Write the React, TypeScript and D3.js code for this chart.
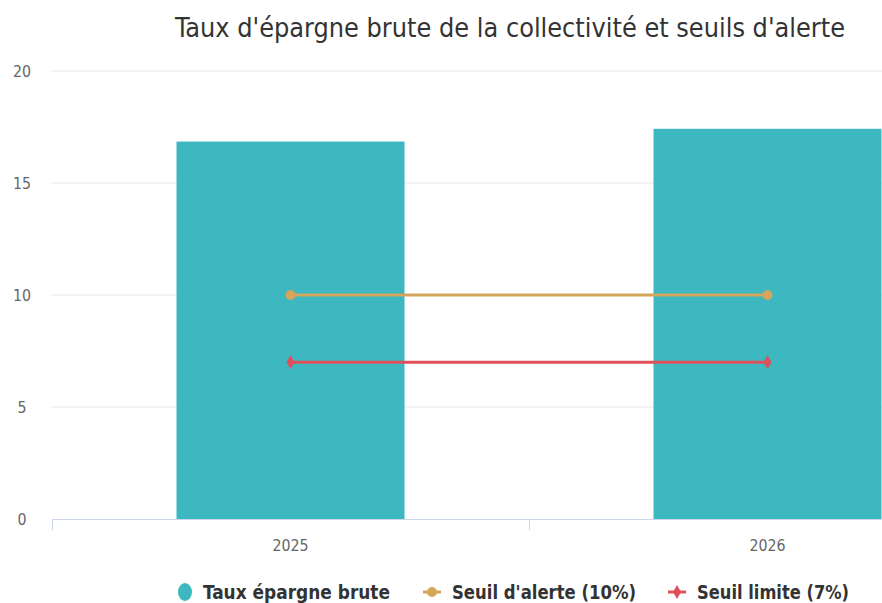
import React from "react";
import * as d3 from "d3";

const years = ["2025", "2026"];
const epargneBrute = [16.85, 17.42];
const seuilAlerte = [10, 10];
const seuilLimite = [7, 7];
const yTicks = [0, 5, 10, 15, 20];

const W = 882;
const H = 603;
const FONT = "'DejaVu Sans Condensed', 'DejaVu Sans', sans-serif";

export default function App() {
  // plot area runs past the right edge, like the source screenshot
  const x = d3.scaleBand<string>().domain(years).range([52, 1006]).padding(0);
  const y = d3.scaleLinear().domain([0, 20]).range([519, 71]);
  const bw = x.bandwidth();
  const barW = bw * 0.478;
  const cx = (d: string) => (x(d) as number) + bw / 2;

  const line = d3
    .line<number>()
    .x((_, i) => cx(years[i]))
    .y((d) => y(d));

  const diamond = d3.symbol(d3.symbolDiamond, 55)() as string;

  const legend = [
    { label: "Taux épargne brute", color: "#3db8c0", kind: "circle", x: 185, len: 187 },
    { label: "Seuil d'alerte (10%)", color: "#d4a55a", kind: "line-circle", x: 432, len: 184 },
    { label: "Seuil limite (7%)", color: "#e0505a", kind: "line-diamond", x: 677, len: 152 },
  ];

  return (
    <svg
      width={W}
      height={H}
      style={{ position: "absolute", left: 0, top: 0, background: "#fff" }}
      fontFamily={FONT}
    >
      <text x={510} y={37} textAnchor="middle" fontSize={26} fill="#333" textLength={670} lengthAdjust="spacingAndGlyphs">
        Taux d'épargne brute de la collectivité et seuils d'alerte
      </text>

      {/* grid */}
      {yTicks.filter((t) => t > 0).map((t) => (
        <line key={t} x1={52} x2={W} y1={y(t)} y2={y(t)} stroke="#e6e6e6" strokeWidth={1} />
      ))}
      {yTicks.map((t) => (
        <text
          key={t}
          x={22}
          y={y(t) + 6}
          textAnchor="middle"
          fontSize={16}
          fill="#666"
          textLength={t >= 10 ? 18 : 9}
          lengthAdjust="spacingAndGlyphs"
        >
          {t}
        </text>
      ))}

      {/* bars */}
      {years.map((yr, i) => (
        <rect
          key={yr}
          x={cx(yr) - barW / 2}
          y={y(epargneBrute[i])}
          width={barW}
          height={y(0) - y(epargneBrute[i])}
          fill="#3db8c0"
        />
      ))}

      {/* x axis */}
      <line x1={52} x2={W} y1={519.5} y2={519.5} stroke="#ccd6eb" strokeWidth={1} />
      {years.map((yr) => (
        <line key={yr} x1={(x(yr) as number) + 0.5} x2={(x(yr) as number) + 0.5} y1={519} y2={530} stroke="#ccd6eb" />
      ))}
      {years.map((yr) => (
        <text
          key={yr}
          x={cx(yr)}
          y={551}
          textAnchor="middle"
          fontSize={16}
          fill="#666"
          textLength={36}
          lengthAdjust="spacingAndGlyphs"
        >
          {yr}
        </text>
      ))}

      {/* threshold lines */}
      <path d={line(seuilAlerte) as string} fill="none" stroke="#d4a55a" strokeWidth={3} />
      {seuilAlerte.map((v, i) => (
        <circle key={i} cx={cx(years[i])} cy={y(v)} r={5} fill="#d4a55a" />
      ))}
      <path d={line(seuilLimite) as string} fill="none" stroke="#e0505a" strokeWidth={3} />
      {seuilLimite.map((v, i) => (
        <path key={i} d={diamond} transform={`translate(${cx(years[i])},${y(v)})`} fill="#e0505a" />
      ))}

      {/* legend */}
      {legend.map((l) => (
        <g key={l.label} transform={`translate(${l.x},592)`}>
          {l.kind === "circle" ? (
            <ellipse cx={0} cy={0} rx={7} ry={9} fill={l.color} />
          ) : (
            <>
              <line x1={-9} x2={9} y1={0} y2={0} stroke={l.color} strokeWidth={3} />
              {l.kind === "line-circle" ? (
                <circle r={5} fill={l.color} />
              ) : (
                <path d={diamond} fill={l.color} />
              )}
            </>
          )}
          <text
            x={l.kind === "circle" ? 18 : 20}
            y={7}
            fontSize={19}
            fontWeight="bold"
            fill="#333"
            textLength={l.len}
            lengthAdjust="spacingAndGlyphs"
          >
            {l.label}
          </text>
        </g>
      ))}
    </svg>
  );
}
